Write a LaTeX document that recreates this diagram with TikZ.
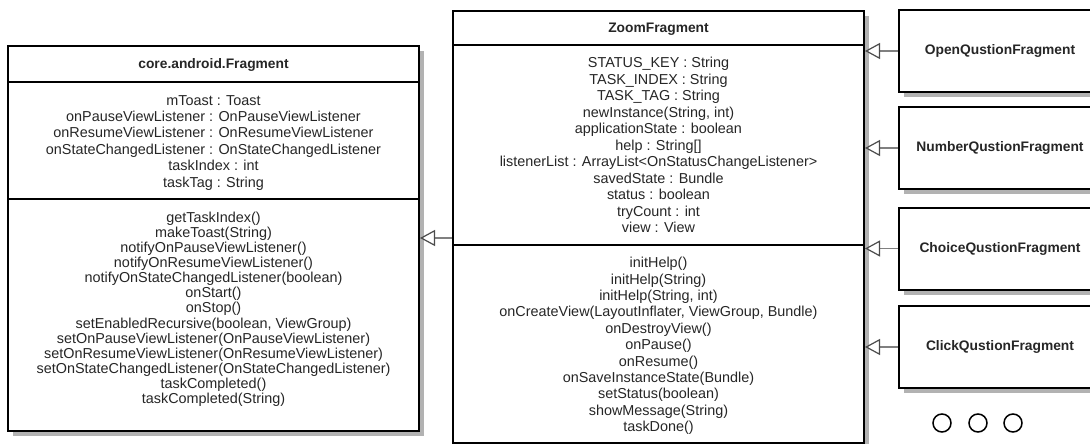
\documentclass[tikz,border=0pt]{standalone}
\usepackage{fontspec}
\setmainfont{Liberation Sans}
\usetikzlibrary{arrows.meta,shadows}
\tikzset{
  classbox/.style={draw=black, line width=2pt, fill=white, inner sep=0pt,
    drop shadow={shadow xshift=5pt, shadow yshift=-5pt, fill=black!30, opacity=1}},
  divider/.style={draw=black, line width=2pt},
  member/.style={anchor=base, inner sep=0pt, font=\fontsize{14.4}{16.4}\selectfont, text=black!85},
  title/.style={anchor=base, inner sep=0pt, font=\bfseries\fontsize{13.8}{16}\selectfont, text=black!85},
  inherit/.style={draw=black!50, line width=1.5pt,
    -{Triangle[open, length=15pt, width=16pt, line width=1.2pt, color=black!70]}},
  dot/.style={circle, draw=black, line width=1.5pt, minimum size=18pt, inner sep=0pt},
}
\begin{document}
\begin{tikzpicture}[x=1pt,y=-1pt]
\useasboundingbox (0,0) rectangle (1090,444);
\clip (0,0) rectangle (1090,444);
\fill[white] (0,0) rectangle (1090,444);

% core.android.Fragment
\node[classbox, minimum width=411pt, minimum height=385pt] (frag) at (213.5,238.5) {};
\draw[divider] (frag.west |- 0,82) -- (frag.east |- 0,82);
\draw[divider] (frag.west |- 0,199) -- (frag.east |- 0,199);
\node[title] (fragT) at (213.5,69) {core.android.Fragment};
\foreach \t [count=\i] in {{mToast : Toast},
  {onPauseViewListener : OnPauseViewListener},
  {onResumeViewListener : OnResumeViewListener},
  {onStateChangedListener : OnStateChangedListener},
  {taskIndex : int},
  {taskTag : String}}
  \node[member] (fa\i) at (213.5,{105+(\i-1)*16.4}) {\t};
\foreach \t [count=\i] in {{getTaskIndex()},
  {makeToast(String)},
  {notifyOnPauseViewListener()},
  {notifyOnResumeViewListener()},
  {notifyOnStateChangedListener(boolean)},
  {onStart()},
  {onStop()},
  {setEnabledRecursive(boolean, ViewGroup)},
  {setOnPauseViewListener(OnPauseViewListener)},
  {setOnResumeViewListener(OnResumeViewListener)},
  {setOnStateChangedListener(OnStateChangedListener)},
  {taskCompleted()},
  {taskCompleted(String)}}
  \node[member] (fm\i) at (213.5,{222+(\i-1)*15.15}) {\t};

% ZoomFragment
\node[classbox, minimum width=411pt, minimum height=432pt] (zoom) at (658.5,227) {};
\draw[divider] (zoom.west |- 0,45) -- (zoom.east |- 0,45);
\draw[divider] (zoom.west |- 0,245) -- (zoom.east |- 0,245);
\node[title] (zoomT) at (658.5,33) {ZoomFragment};
\foreach \t [count=\i] in {{STATUS\_KEY : String},
  {TASK\_INDEX : String},
  {TASK\_TAG : String},
  {newInstance(String, int)},
  {applicationState : boolean},
  {help : String[]},
  {listenerList : ArrayList<OnStatusChangeListener>},
  {savedState : Bundle},
  {status : boolean},
  {tryCount : int},
  {view : View}}
  \node[member] (za\i) at (658.5,{67.7+(\i-1)*16.5}) {\t};
\foreach \t [count=\i] in {{initHelp()},
  {initHelp(String)},
  {initHelp(String, int)},
  {onCreateView(LayoutInflater, ViewGroup, Bundle)},
  {onDestroyView()},
  {onPause()},
  {onResume()},
  {onSaveInstanceState(Bundle)},
  {setStatus(boolean)},
  {showMessage(String)},
  {taskDone()}}
  \node[member] (zm\i) at (658.5,{267.7+(\i-1)*16.4}) {\t};

% subclasses
\node[classbox, minimum width=202pt, minimum height=82pt, font=\bfseries\fontsize{13.8}{16}\selectfont, text=black!85] (open) at (1000,51) {OpenQustionFragment};
\node[classbox, minimum width=202pt, minimum height=82pt, font=\bfseries\fontsize{13.8}{16}\selectfont, text=black!85] (number) at (1000,148) {NumberQustionFragment};
\node[classbox, minimum width=202pt, minimum height=82pt, font=\bfseries\fontsize{13.8}{16}\selectfont, text=black!85] (choice) at (1000,248.5) {ChoiceQustionFragment};
\node[classbox, minimum width=202pt, minimum height=82pt, font=\bfseries\fontsize{13.8}{16}\selectfont, text=black!85] (click) at (1000,347) {ClickQustionFragment};

% inheritance connectors
\draw[inherit] (open.west) -- (zoom.east |- open.west);
\draw[inherit] (number.west) -- (zoom.east |- number.west);
\draw[inherit] (choice.west) -- (zoom.east |- choice.west);
\draw[inherit] (click.west) -- (zoom.east |- click.west);
\coordinate (zl) at (zoom.west |- 0,238);
\draw[inherit] (zl) -- (frag.east |- zl);

% ellipsis circles
\node[dot] (d1) at (942,423) {};
\node[dot] (d2) at (978,423) {};
\node[dot] (d3) at (1013,423) {};
\end{tikzpicture}
\end{document}
